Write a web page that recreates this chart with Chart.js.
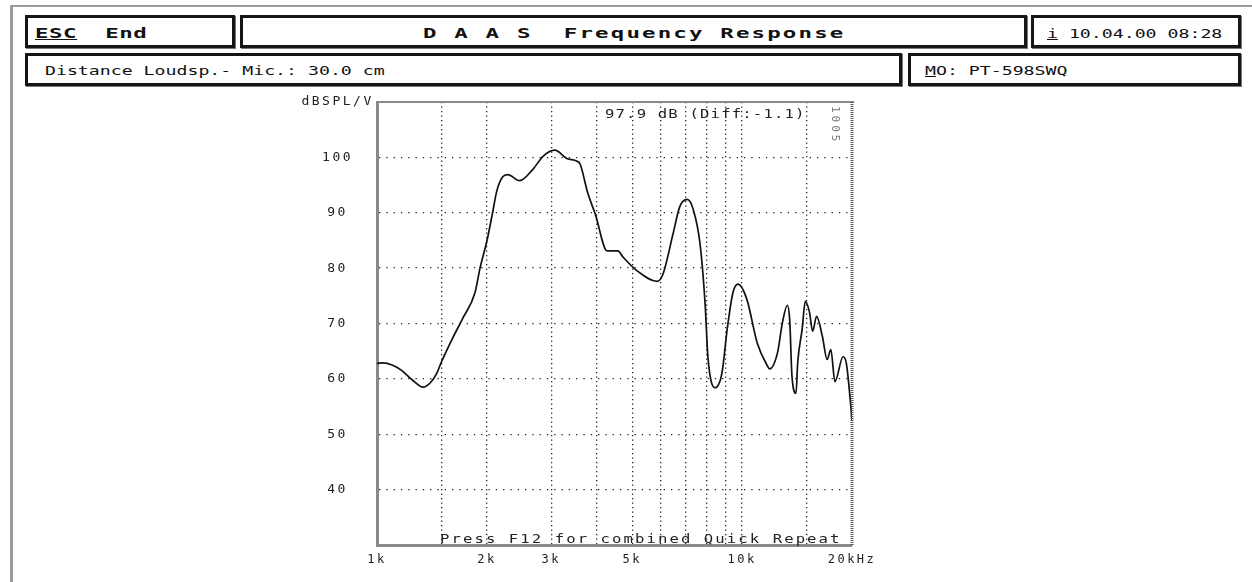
<!DOCTYPE html>
<html>
<head>
<meta charset="utf-8">
<script src="https://cdn.jsdelivr.net/npm/chart.js@4"></script>
<style>
  body { margin: 0; width: 1252px; height: 582px; overflow: hidden; background: #fff; font-family: "DejaVu Sans Mono", monospace; color: #111; }
  .frameTop { position: absolute; left: 12px; top: 5px; width: 1240px; height: 2px; background: #9a9a9a; }
  .frameLeft { position: absolute; left: 10px; top: 5px; width: 3px; height: 577px; background: #9a9a9a; }
  .box { position: absolute; box-sizing: border-box; height: 33px; border: 3px solid #151515; box-shadow: 1px 1px 0 #777; background: #fff; overflow: hidden; white-space: pre; }
  .txt { position: absolute; top: 7px; display: inline-block; transform-origin: left center; }
  .big { font-size: 14px; font-weight: bold; transform: scaleX(1.6); }
  .small { font-size: 13px; transform: scaleX(1.4); }
  #wrap { position: absolute; left: 0; top: 0; width: 1252px; height: 582px; }
</style>
</head>
<body>
<div class="frameTop"></div>
<div class="frameLeft"></div>

<div class="box" style="left:25px; top:15px; width:210px;">
  <span class="txt big" style="left:7px; letter-spacing:0.35px;"><u>ESC</u>  End</span>
</div>
<div class="box" style="left:240px; top:15px; width:787px;">
  <span class="txt big" style="left:180px; letter-spacing:1.35px;">D A A S  Frequency Response</span>
</div>
<div class="box" style="left:1031px; top:15px; width:210px;">
  <span class="txt small" style="left:13px; top:8px; letter-spacing:0px;"><u>i</u> 10.04.00 08:28</span>
</div>
<div class="box" style="left:25px; top:53px; width:877px;">
  <span class="txt small" style="left:17px; top:7px; letter-spacing:0px;">Distance Loudsp.- Mic.: 30.0 cm</span>
</div>
<div class="box" style="left:908px; top:53px; width:333px;">
  <span class="txt small" style="left:14px; top:7px; letter-spacing:0px;"><u>M</u>O: PT-598SWQ</span>
</div>

<div id="wrap"><canvas id="resp"></canvas></div>

<script>
// Frequenzgang (Hz / dB SPL)
const freqs = [1000, 1040, 1100, 1170, 1250, 1337, 1400, 1460, 1500, 1615, 1720, 1856, 1915, 2000, 2070, 2130,
  2210, 2280, 2460, 2670, 2850, 3070, 3310, 3530, 3600, 3780, 3960, 4270, 4570, 4720, 5160, 5850, 6070, 6470,
  6750, 7070, 7340, 7670, 7920, 8060, 8430, 8810, 9100, 9440, 9750, 10300, 11000, 11700, 11900, 12500, 12900,
  13300, 13500, 13700, 14050, 14200, 14600, 14900, 15300, 15600, 16000, 16600, 17100, 17500, 17960, 18900,
  19300, 19750, 20000];
const spl = [62.8, 62.9, 62.5, 61.5, 59.8, 58.5, 59.3, 61.1, 63.0, 67.5, 71.0, 75.6, 80.0, 84.9, 89.8, 94.0,
  96.5, 96.9, 95.8, 97.8, 100.2, 101.3, 99.8, 99.3, 98.8, 93.5, 89.8, 83.1, 83.1, 82.0, 79.5, 77.6, 78.9, 86.2,
  91.1, 92.4, 90.7, 84.4, 73.5, 64.0, 58.4, 61.1, 68.9, 75.6, 77.1, 74.4, 66.5, 62.5, 61.8, 64.7, 70.2,
  73.3, 70.7, 60.4, 57.4, 62.9, 68.9, 74.0, 72.0, 68.6, 71.3, 67.6, 63.5, 65.3, 59.5, 64.0,
  62.8, 56.7, 52.5];

const xGrid = [1000, 1500, 2000, 3000, 4000, 5000, 6000, 7000, 8000, 9000, 10000, 15000, 20000];
const xLabels = { 1000: '1k', 2000: '2k', 3000: '3k', 5000: '5k', 10000: '10k', 20000: '20kHz' };
const yTop = 110, yBottom = 30;
const yUnit = 'dBSPL/V';
const levelNote = '97.9 dB (Diff:-1.1)';
const footNote = 'Press F12 for combined Quick Repeat';
const sideNote = '1005';

const FONT = '"DejaVu Sans Mono", monospace';

const overlay = {
  id: 'overlay',
  beforeDraw(chart) {
    chart.ctx.letterSpacing = '2.5px';
  },
  afterDraw(chart) {
    const { ctx, chartArea: a } = chart;
    ctx.save();
    // top border + right border
    ctx.strokeStyle = '#8a8a8a';
    ctx.lineWidth = 2;
    ctx.beginPath();
    ctx.moveTo(a.left, a.top);
    ctx.lineTo(a.right + 2, a.top);
    ctx.stroke();
    ctx.strokeStyle = '#555';
    ctx.lineWidth = 3;
    ctx.setLineDash([1, 1]);
    ctx.beginPath();
    ctx.moveTo(a.right, a.top);
    ctx.lineTo(a.right, a.bottom);
    ctx.stroke();
    ctx.setLineDash([]);

    ctx.fillStyle = '#222';
    ctx.font = '12px ' + FONT;
    ctx.save();
    ctx.translate(605, a.top + 13);
    ctx.scale(1.3, 1);
    ctx.letterSpacing = '0.9px';
    ctx.textBaseline = 'middle';
    ctx.fillText(levelNote, 0, 0);
    ctx.restore();

    ctx.save();
    ctx.translate(440, a.bottom + 1);
    ctx.scale(1.3, 1);
    ctx.letterSpacing = '1.6px';
    ctx.textBaseline = 'bottom';
    ctx.fillText(footNote, 0, 0);
    ctx.restore();

    ctx.translate(a.right - 17, a.top + 4);
    ctx.rotate(Math.PI / 2);
    ctx.font = '11px ' + FONT;
    ctx.letterSpacing = '3px';
    ctx.fillStyle = '#777';
    ctx.textBaseline = 'middle';
    ctx.fillText(sideNote, 0, 0);
    ctx.restore();
  }
};

new Chart(document.getElementById('resp'), {
  type: 'line',
  data: {
    datasets: [{
      data: freqs.map((f, i) => ({ x: f, y: spl[i] })),
      borderColor: '#111',
      borderWidth: 1.7,
      pointRadius: 0,
      cubicInterpolationMode: 'monotone',
      fill: false
    }]
  },
  options: {
    responsive: true,
    maintainAspectRatio: false,
    animation: false,
    layout: { padding: { left: 287, right: 400, top: 102, bottom: 0 } },
    plugins: { legend: { display: false }, tooltip: { enabled: false } },
    scales: {
      x: {
        type: 'logarithmic',
        min: 1000,
        max: 20000,
        afterBuildTicks: s => { s.ticks = xGrid.map(v => ({ value: v })); },
        afterFit: s => { s.height = 37; },
        ticks: {
          autoSkip: false,
          maxRotation: 0,
          padding: 8,
          color: '#222',
          font: { family: FONT, size: 12 },
          callback: v => xLabels[v] || ''
        },
        grid: {
          drawTicks: false,
          color: c => (c.tick && (c.tick.value === 1000 || c.tick.value === 20000)) ? 'rgba(0,0,0,0)' : '#222',
          lineWidth: 1.3
        },
        border: { display: true, color: '#8a8a8a', width: 3, dash: [1.3, 3.2] }
      },
      y: {
        min: yBottom,
        max: yTop,
        afterFit: s => { s.width = 90; },
        ticks: {
          stepSize: 10,
          padding: 12,
          crossAlign: 'center',
          color: '#222',
          font: { family: FONT, size: 13 },
          callback: v => v === yTop ? yUnit : (v === yBottom ? '' : v)
        },
        grid: {
          drawTicks: false,
          color: c => (c.tick && (c.tick.value === yTop || c.tick.value === yBottom)) ? 'rgba(0,0,0,0)' : '#222',
          lineWidth: 1.3
        },
        border: { display: true, color: '#8a8a8a', width: 3, dash: [1.3, 6] }
      }
    }
  },
  plugins: [overlay]
});
</script>
</body>
</html>
